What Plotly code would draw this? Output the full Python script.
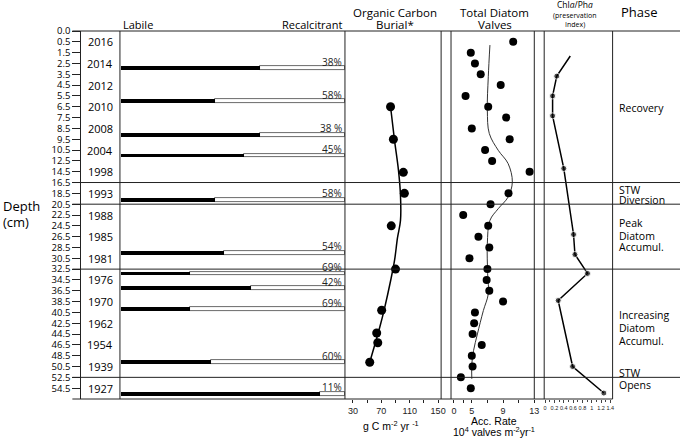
import plotly.graph_objects as go

W, H = 685, 438

# ---------------- data ----------------
depth_labels = ["0.0", "0.5", "1.5", "2.5", "3.5", "4.5", "5.5", "6.5", "7.5", "8.5", "9.5",
                "10.5", "12.5", "14.5", "16.5", "18.5", "20.5", "22.5", "24.5", "26.5", "28.5",
                "30.5", "32.5", "34.5", "36.5", "38.5", "40.5", "42.5", "44.5", "46.5", "48.5",
                "50.5", "52.5", "54.5"]

years = ["2016", "2014", "2012", "2010", "2008", "2004", "1998", "1993", "1988", "1985",
         "1981", "1976", "1970", "1962", "1954", "1939", "1927"]
year_depths = ["0.5", "2.5", "4.5", "6.5", "8.5", "10.5", "14.5", "18.5", "22.5", "26.5",
               "30.5", "34.5", "38.5", "42.5", "46.5", "50.5", "54.5"]

# Labile / recalcitrant bars (position on depth scale, recalcitrant %)
bar_pos = [3.45, 6.5, 9.6, 11.5, 15.6, 20.5, 22.4, 23.75, 25.7, 30.6, 33.5]
recalcitrant = [38, 58, 38, 45, 58, 54, 69, 42, 69, 60, 11]
recal_text = ["38%", "58%", "38 %", "45%", "58%", "54%", "69%", "42%", "69%", "60%", "11%"]

# Organic carbon burial (g C m-2 yr-1)
oc_pos = [7.0, 10.0, 13.06, 15.0, 18.0, 22.0, 25.8, 27.9, 28.8, 30.6]
oc_val = [83, 87, 101, 102.5, 84, 90, 70.5, 63.5, 65, 53.7]
oc_fit_pos = [7.0, 10.1, 12.9, 15.2, 17.5, 19.1, 21.2, 23.1, 25.6, 27.4, 30.6]
oc_fit_val = [83.0, 88.6, 94.2, 97.0, 97.0, 92.8, 88.6, 83.0, 74.6, 67.7, 53.7]

# Total diatom valves accumulation rate
diatom_depths = ["0.5", "1.5", "2.5", "3.5", "4.5", "5.5", "6.5", "7.5", "8.5", "9.5",
                 "10.5", "12.5", "14.5", "18.5", "20.5", "22.5", "24.5", "26.5", "28.5",
                 "30.5", "32.5", "34.5", "36.5", "38.5", "40.5", "42.5", "44.5", "46.5",
                 "48.5", "50.5", "52.5", "54.5"]
diatom_val = [10.3, 4.87, 5.4, 6.14, 8.7, 4.2, 7.1, 9.4, 5.0, 9.85,
              6.7, 7.6, 12.4, 9.7, 7.4, 3.9, 7.1, 5.85, 7.24, 4.7,
              7.0, 6.9, 7.24, 9.0, 5.4, 5.3, 5.1, 6.27, 5.0, 5.1,
              3.6, 4.87]
diatom_fit_pos = [1.3, 4.23, 7.31, 9.47, 11.02, 12.25, 13.95, 15.34, 16.42, 17.5,
                  19.66, 22.43, 24.29, 25.83, 27.99, 29.54, 30.77, 32.13]
diatom_fit_val = [7.32, 7.11, 6.99, 7.24, 8.38, 9.65, 10.19, 9.65, 8.38, 7.32,
                  6.99, 7.03, 7.11, 6.48, 5.72, 5.22, 5.0, 5.0]

# Chla/Pha preservation index
chl_pos = [2.31, 4.17, 6.0, 7.84, 12.7, 18.8, 20.65, 22.4, 24.9, 31.0, 33.45]
chl_val = [0.54, 0.25, 0.16, 0.16, 0.40, 0.61, 0.64, 0.91, 0.28, 0.59, 1.26]

phase_sep_depths = ["16.5", "20.5", "32.5", "52.5"]
phase_lines = ["Recovery", "STW", "Diversion", "Peak", "Diatom", "Accumul.",
               "Increasing", "Diatom", "Accumul.", "STW", "Opens"]
phase_line_pos = [7.1, 14.65, 15.65, 17.7, 18.9, 20.0, 26.2, 27.4, 28.6, 31.6, 32.7]

oc_ticks = [30, 50, 70, 90, 110, 130, 150]
oc_ticktext = ["30", "", "70", "", "110", "", "150"]
dia_ticks = [2.72, 3.9, 5, 7, 9, 11, 13]
dia_ticktext = ["0", "", "5", "", "9", "", "13"]
chl_ticks = [0, 0.2, 0.4, 0.6, 0.8, 1.0, 1.2, 1.4]
chl_ticktext = ["0", "0.2", "0.4", "0.6", "0.8", "1", "1.2", "1.4"]

# ---------------- helpers ----------------
def px(x):
    return x / W

def py(y):
    return 1 - y / H

def didx(lbl):
    return depth_labels.index(lbl)

FONT = "Open Sans"
ARIAL = "Liberation Sans"
Y_TOP, Y_BOT = 31, 399

fig = go.Figure()

# Labile / recalcitrant bars
labile = [100 - r for r in recalcitrant]
fig.add_trace(go.Bar(orientation="h", y=bar_pos, x=recalcitrant, base=labile, width=0.36,
                     marker=dict(color="white", line=dict(color="#444", width=0.8)),
                     xaxis="x", yaxis="y", showlegend=False))
fig.add_trace(go.Bar(orientation="h", y=bar_pos, x=labile, base=[0] * len(labile), width=0.36,
                     marker=dict(color="black", line=dict(width=0)),
                     xaxis="x", yaxis="y", showlegend=False))

# Organic carbon
fig.add_trace(go.Scatter(x=oc_fit_val, y=oc_fit_pos, mode="lines", line=dict(color="black", width=1.5, shape="spline"),
                         xaxis="x2", yaxis="y", showlegend=False))
fig.add_trace(go.Scatter(x=oc_val, y=oc_pos, mode="markers", marker=dict(color="black", size=9),
                         xaxis="x2", yaxis="y", showlegend=False))

# Diatoms
fig.add_trace(go.Scatter(x=diatom_fit_val, y=diatom_fit_pos, mode="lines",
                         line=dict(color="#333", width=1, shape="spline"),
                         xaxis="x3", yaxis="y", showlegend=False))
fig.add_trace(go.Scatter(x=diatom_val, y=[didx(d) for d in diatom_depths], mode="markers",
                         marker=dict(color="black", size=8),
                         xaxis="x3", yaxis="y", showlegend=False))

# Chl a / Pha
fig.add_trace(go.Scatter(x=chl_val, y=chl_pos, mode="lines+markers",
                         line=dict(color="black", width=1.5),
                         marker=dict(color="black", size=[0] + [6] * (len(chl_val) - 1)),
                         xaxis="x4", yaxis="y", showlegend=False))

shapes = []
line_style = dict(color="#222", width=1)
for x in [120, 347, 444, 454, 538, 548, 617]:
    shapes.append(dict(type="line", xref="paper", yref="paper", x0=px(x), x1=px(x),
                       y0=py(Y_BOT), y1=py(Y_TOP), line=line_style, layer="above"))
shapes.append(dict(type="line", xref="paper", yref="paper", x0=px(72), x1=1,
                   y0=py(Y_TOP), y1=py(Y_TOP), line=line_style))
shapes.append(dict(type="line", xref="paper", yref="paper", x0=px(72), x1=px(617),
                   y0=py(Y_BOT), y1=py(Y_BOT), line=line_style))
for d in phase_sep_depths:
    shapes.append(dict(type="line", xref="paper", yref="y", x0=px(72), x1=1,
                       y0=didx(d), y1=didx(d), line=line_style))

ann = []
for yr, d in zip(years, year_depths):
    ann.append(dict(text=yr, x=px(100), y=didx(d), xref="paper", yref="y", showarrow=False,
                    font=dict(family=FONT, size=11, color="black"), xanchor="center", yanchor="middle"))
for t, p in zip(recal_text, bar_pos):
    ann.append(dict(text=t, x=px(346), y=p - 0.6, xref="paper", yref="y", showarrow=False,
                    font=dict(family=FONT, size=10, color="#222"), xanchor="right", yanchor="middle"))
for t, p in zip(phase_lines, phase_line_pos):
    ann.append(dict(text=t, x=px(621), y=p, xref="paper", yref="y", showarrow=False,
                    font=dict(family=FONT, size=10.5, color="black"), xanchor="left", yanchor="middle"))


def txt(t, x, y, size, xanchor="center", family=FONT, color="black"):
    ann.append(dict(text=t, x=px(x), y=py(y), xref="paper", yref="paper", showarrow=False,
                    font=dict(family=family, size=size, color=color), xanchor=xanchor, yanchor="middle"))


txt("Depth", 0, 206, 13, "left")
txt("(cm)", 0, 222, 13, "left")
txt("Labile", 121, 24, 11, "left")
txt("Recalcitrant", 346, 24, 11, "right")
txt("Organic Carbon", 397, 12, 11.5)
txt("Burial*", 397, 25, 11.5)
txt("Total Diatom", 498, 12, 11.5)
txt("Valves", 498, 25, 11.5)
txt("Chl<i>a</i>/Ph<i>a</i>", 579, 5, 8.5)
txt("(preservation", 579, 15, 7)
txt("Index)", 579, 25, 7)
txt("Phase", 644, 12, 13)
txt("g C m<sup>-2</sup> yr <sup>-1</sup>", 393, 425, 10.5, family=ARIAL)
txt("Acc. Rate", 497, 421, 10.5, family=ARIAL)
txt("10<sup>4</sup> valves m<sup>-2</sup>yr<sup>-1</sup>", 497, 431.5, 10.5, family=ARIAL)

ydom = [py(Y_BOT), py(Y_TOP)]
hidden_x = dict(showgrid=False, zeroline=False, showticklabels=False, ticks="", showline=False)

fig.update_layout(
    width=W, height=H, margin=dict(l=0, r=0, t=0, b=0),
    paper_bgcolor="white", plot_bgcolor="white",
    barmode="overlay", bargap=0,
    xaxis=dict(domain=[px(121), px(347)], range=[0, 100], anchor="y", fixedrange=True, **hidden_x),
    xaxis2=dict(domain=[px(347), px(444)], range=[18.8, 154.2], anchor="y", showgrid=False, zeroline=False,
                tickvals=oc_ticks, ticktext=oc_ticktext, ticks="outside", ticklen=3, tickcolor="#222",
                tickfont=dict(family=ARIAL, size=9, color="#222"), showline=False, tickangle=0),
    xaxis3=dict(domain=[px(454), px(538)], range=[2.34, 13.0], anchor="y", showgrid=False, zeroline=False,
                tickvals=dia_ticks, ticktext=dia_ticktext, ticks="outside", ticklen=3, tickcolor="#222",
                tickfont=dict(family=ARIAL, size=9, color="#222"), showline=False, tickangle=0),
    xaxis4=dict(domain=[px(548), px(617)], range=[-0.02, 1.448], anchor="y", showgrid=False, zeroline=False,
                tickvals=chl_ticks, ticktext=chl_ticktext, ticks="outside", ticklen=3, tickcolor="#444",
                tickfont=dict(family=ARIAL, size=5.5, color="#222"), showline=False, tickangle=0,
                minor=dict(dtick=0.1, ticks="outside", ticklen=2, tickcolor="#444")),
    yaxis=dict(domain=ydom, range=[34, 0], anchor="free", position=px(80), showgrid=False, zeroline=False,
               tickvals=list(range(len(depth_labels))), ticktext=depth_labels,
               ticks="outside", ticklen=8, tickcolor="#222", showline=True, linecolor="#222", linewidth=1,
               tickfont=dict(family=FONT, size=9.5, color="black"), automargin=False),
    shapes=shapes, annotations=ann,
)

fig.write_html("out.html", config={"displayModeBar": False},
               post_script="document.body.style.margin='0';document.body.style.overflow='hidden';")
